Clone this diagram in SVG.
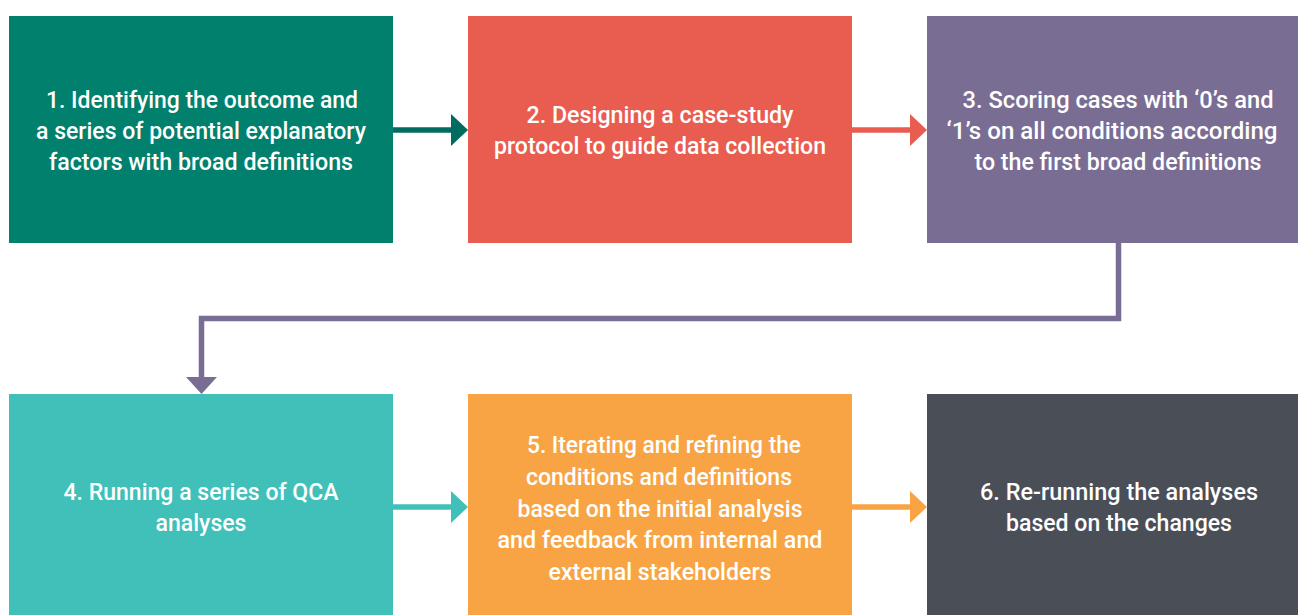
<svg xmlns="http://www.w3.org/2000/svg" width="1298" height="615" viewBox="0 0 1298 615">
<style>
.t{font-family:Roboto,"Liberation Sans",sans-serif;font-size:23.5px;font-weight:500;fill:#ffffff;text-anchor:middle}
.ln{fill:none;stroke-width:5.5}
</style>
<rect width="1298" height="615" fill="#ffffff"/>
<g id="connectors">
<path class="ln" stroke="#006B5E" d="M393 130H452"/>
<polygon fill="#006B5E" points="451,114 468,130 451,146"/>
<path class="ln" stroke="#E85D50" d="M852 130H911"/>
<polygon fill="#E85D50" points="910,114 927,130 910,146"/>
<path class="ln" stroke="#7A6D93" d="M1118.5 243V318.5H201.5V378"/>
<polygon fill="#7A6D93" points="186,377 217,377 201.5,394"/>
<path class="ln" stroke="#40C0B8" d="M393 507H452"/>
<polygon fill="#40C0B8" points="451,491 468,507 451,523"/>
<path class="ln" stroke="#F8A444" d="M852 507H911"/>
<polygon fill="#F8A444" points="910,491 927,507 910,523"/>
</g>
<g id="n1">
<rect x="9" y="16" width="384" height="227" fill="#00806D"/>
<text class="t" x="202" y="108" textLength="312" lengthAdjust="spacingAndGlyphs">1. Identifying the outcome and</text>
<text class="t" x="201" y="139" textLength="330" lengthAdjust="spacingAndGlyphs">a series of potential explanatory</text>
<text class="t" x="201" y="170" textLength="304" lengthAdjust="spacingAndGlyphs">factors with broad definitions</text>
</g>
<g id="n2">
<rect x="468" y="16" width="384" height="227" fill="#E85D50"/>
<text class="t" x="660" y="123" textLength="267" lengthAdjust="spacingAndGlyphs">2. Designing a case-study</text>
<text class="t" x="660" y="154" textLength="332" lengthAdjust="spacingAndGlyphs">protocol to guide data collection</text>
</g>
<g id="n3">
<rect x="927" y="16" width="371" height="227" fill="#7A6D93"/>
<text class="t" x="1118" y="108" textLength="311" lengthAdjust="spacingAndGlyphs">3. Scoring cases with ‘0’s and</text>
<text class="t" x="1112" y="139" textLength="331" lengthAdjust="spacingAndGlyphs">‘1’s on all conditions according</text>
<text class="t" x="1118" y="170" textLength="287" lengthAdjust="spacingAndGlyphs">to the first broad definitions</text>
</g>
<g id="n4">
<rect x="9" y="394" width="384" height="221" fill="#40C0B8"/>
<text class="t" x="201" y="500" textLength="275" lengthAdjust="spacingAndGlyphs">4. Running a series of QCA</text>
<text class="t" x="201" y="531" textLength="91" lengthAdjust="spacingAndGlyphs">analyses</text>
</g>
<g id="n5">
<rect x="468" y="394" width="384" height="221" fill="#F8A444"/>
<text class="t" x="664" y="453" textLength="274" lengthAdjust="spacingAndGlyphs">5. Iterating and refining the</text>
<text class="t" x="659" y="485" textLength="266" lengthAdjust="spacingAndGlyphs">conditions and definitions</text>
<text class="t" x="660" y="516.5" textLength="285" lengthAdjust="spacingAndGlyphs">based on the initial analysis</text>
<text class="t" x="660" y="548" textLength="325" lengthAdjust="spacingAndGlyphs">and feedback from internal and</text>
<text class="t" x="660" y="579.5" textLength="223" lengthAdjust="spacingAndGlyphs">external stakeholders</text>
</g>
<g id="n6">
<rect x="927" y="394" width="371" height="221" fill="#4A4E57"/>
<text class="t" x="1119" y="500" textLength="278" lengthAdjust="spacingAndGlyphs">6. Re-running the analyses</text>
<text class="t" x="1119" y="531" textLength="226" lengthAdjust="spacingAndGlyphs">based on the changes</text>
</g>
</svg>
